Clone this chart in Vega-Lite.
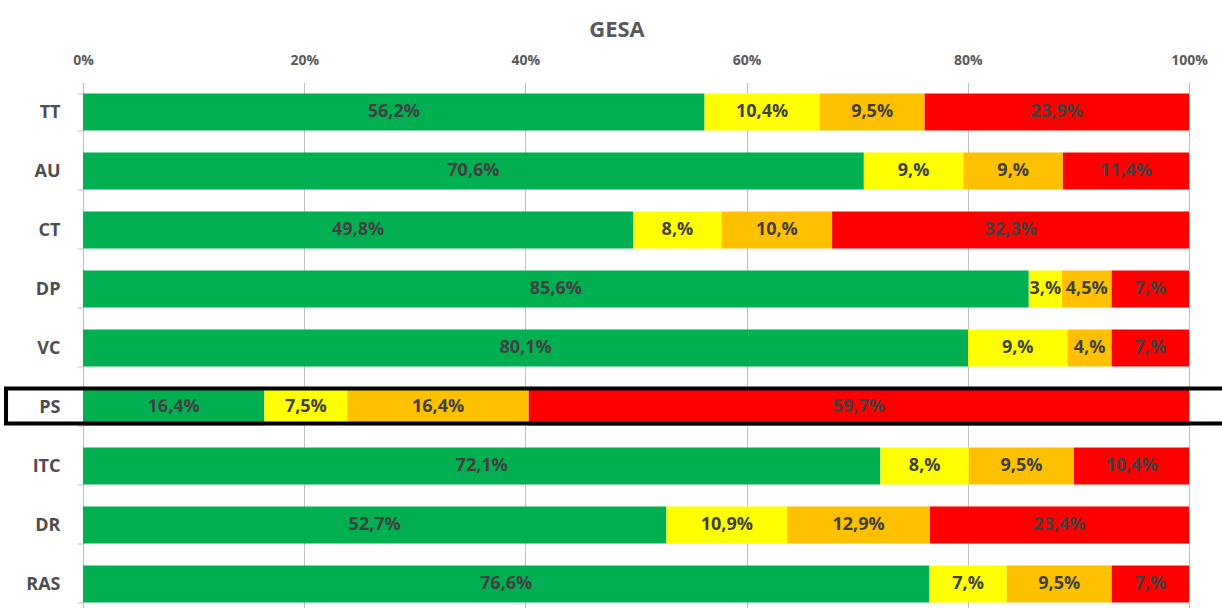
{
  "$schema": "https://vega.github.io/schema/vega-lite/v6.json",
  "width": 1106,
  "height": 531,
  "autosize": {"type": "none"},
  "padding": {"left": 83, "top": 82.5, "right": 33, "bottom": -5.5},
  "background": "white",
  "title": {"text": "GESA", "fontSize": 22, "fontWeight": "bold", "color": "#595959", "font": "Open Sans", "anchor": "middle", "frame": "group", "offset": 12, "dx": -19},
  "config": {"view": {"stroke": null}},
  "datasets": {
    "shares": [
      {"cat": "TT", "k": 1, "level": "g", "v": 56.2, "label": "56,2%"},
      {"cat": "TT", "k": 2, "level": "y", "v": 10.4, "label": "10,4%"},
      {"cat": "TT", "k": 3, "level": "o", "v": 9.5, "label": "9,5%"},
      {"cat": "TT", "k": 4, "level": "r", "v": 23.9, "label": "23,9%"},
      {"cat": "AU", "k": 1, "level": "g", "v": 70.6, "label": "70,6%"},
      {"cat": "AU", "k": 2, "level": "y", "v": 9.0, "label": "9,%"},
      {"cat": "AU", "k": 3, "level": "o", "v": 9.0, "label": "9,%"},
      {"cat": "AU", "k": 4, "level": "r", "v": 11.4, "label": "11,4%"},
      {"cat": "CT", "k": 1, "level": "g", "v": 49.8, "label": "49,8%"},
      {"cat": "CT", "k": 2, "level": "y", "v": 8.0, "label": "8,%"},
      {"cat": "CT", "k": 3, "level": "o", "v": 10.0, "label": "10,%"},
      {"cat": "CT", "k": 4, "level": "r", "v": 32.3, "label": "32,3%"},
      {"cat": "DP", "k": 1, "level": "g", "v": 85.6, "label": "85,6%"},
      {"cat": "DP", "k": 2, "level": "y", "v": 3.0, "label": "3,%"},
      {"cat": "DP", "k": 3, "level": "o", "v": 4.5, "label": "4,5%"},
      {"cat": "DP", "k": 4, "level": "r", "v": 7.0, "label": "7,%"},
      {"cat": "VC", "k": 1, "level": "g", "v": 80.1, "label": "80,1%"},
      {"cat": "VC", "k": 2, "level": "y", "v": 9.0, "label": "9,%"},
      {"cat": "VC", "k": 3, "level": "o", "v": 4.0, "label": "4,%"},
      {"cat": "VC", "k": 4, "level": "r", "v": 7.0, "label": "7,%"},
      {"cat": "PS", "k": 1, "level": "g", "v": 16.4, "label": "16,4%"},
      {"cat": "PS", "k": 2, "level": "y", "v": 7.5, "label": "7,5%"},
      {"cat": "PS", "k": 3, "level": "o", "v": 16.4, "label": "16,4%"},
      {"cat": "PS", "k": 4, "level": "r", "v": 59.7, "label": "59,7%"},
      {"cat": "ITC", "k": 1, "level": "g", "v": 72.1, "label": "72,1%"},
      {"cat": "ITC", "k": 2, "level": "y", "v": 8.0, "label": "8,%"},
      {"cat": "ITC", "k": 3, "level": "o", "v": 9.5, "label": "9,5%"},
      {"cat": "ITC", "k": 4, "level": "r", "v": 10.4, "label": "10,4%"},
      {"cat": "DR", "k": 1, "level": "g", "v": 52.7, "label": "52,7%"},
      {"cat": "DR", "k": 2, "level": "y", "v": 10.9, "label": "10,9%"},
      {"cat": "DR", "k": 3, "level": "o", "v": 12.9, "label": "12,9%"},
      {"cat": "DR", "k": 4, "level": "r", "v": 23.4, "label": "23,4%"},
      {"cat": "RAS", "k": 1, "level": "g", "v": 76.6, "label": "76,6%"},
      {"cat": "RAS", "k": 2, "level": "y", "v": 7.0, "label": "7,%"},
      {"cat": "RAS", "k": 3, "level": "o", "v": 9.5, "label": "9,5%"},
      {"cat": "RAS", "k": 4, "level": "r", "v": 7.0, "label": "7,%"}
    ],
    "highlight": [
      {"cat": "PS", "x1": -0.0696, "x2": 1.06}
    ]
  },
  "encoding": {
    "y": {
      "field": "cat", "type": "nominal",
      "sort": ["TT", "AU", "CT", "DP", "VC", "PS", "ITC", "DR", "RAS"],
      "scale": {"paddingInner": 0.37, "paddingOuter": 0.185},
      "axis": {
        "title": null, "labelFont": "Open Sans", "labelFontSize": 18, "labelFontWeight": "bold",
        "labelColor": "#4d4d4d", "labelPadding": 17, "tickSize": 6, "tickColor": "#bfbfbf",
        "tickBand": "extent", "domainColor": "#bfbfbf"
      }
    }
  },
  "layer": [
    {
      "data": {"name": "shares"},
      "mark": {"type": "bar"},
      "encoding": {
        "x": {
          "field": "v", "type": "quantitative", "stack": "normalize",
          "scale": {"domain": [0, 1], "nice": false},
          "axis": {
            "orient": "top", "title": null, "format": ".0%", "values": [0, 0.2, 0.4, 0.6, 0.8, 1],
            "grid": true, "gridColor": "#bfbfbf", "ticks": false, "domain": false,
            "labelFont": "Open Sans", "labelFontSize": 14, "labelFontWeight": "bold", "labelColor": "#595959",
            "labelPadding": 15, "labelFlush": false
          }
        },
        "color": {
          "field": "level", "type": "nominal",
          "scale": {"domain": ["g", "y", "o", "r"], "range": ["#00B050", "#FFFF00", "#FFC000", "#FF0000"]},
          "legend": null
        },
        "order": {"field": "k", "type": "quantitative"}
      }
    },
    {
      "data": {"name": "shares"},
      "mark": {"type": "text", "font": "Open Sans", "fontSize": 18, "fontWeight": "bold", "color": "#404040", "align": "center", "baseline": "middle"},
      "encoding": {
        "x": {"field": "v", "type": "quantitative", "stack": "normalize", "bandPosition": 0.5},
        "text": {"field": "label", "type": "nominal"},
        "order": {"field": "k", "type": "quantitative"}
      }
    },
    {
      "data": {"name": "highlight"},
      "mark": {"type": "bar", "size": 35, "yOffset": -1, "fill": null, "fillOpacity": 0, "stroke": "#000000", "strokeWidth": 4, "clip": false},
      "encoding": {
        "x": {"field": "x1", "type": "quantitative"},
        "x2": {"field": "x2"}
      }
    }
  ]
}
